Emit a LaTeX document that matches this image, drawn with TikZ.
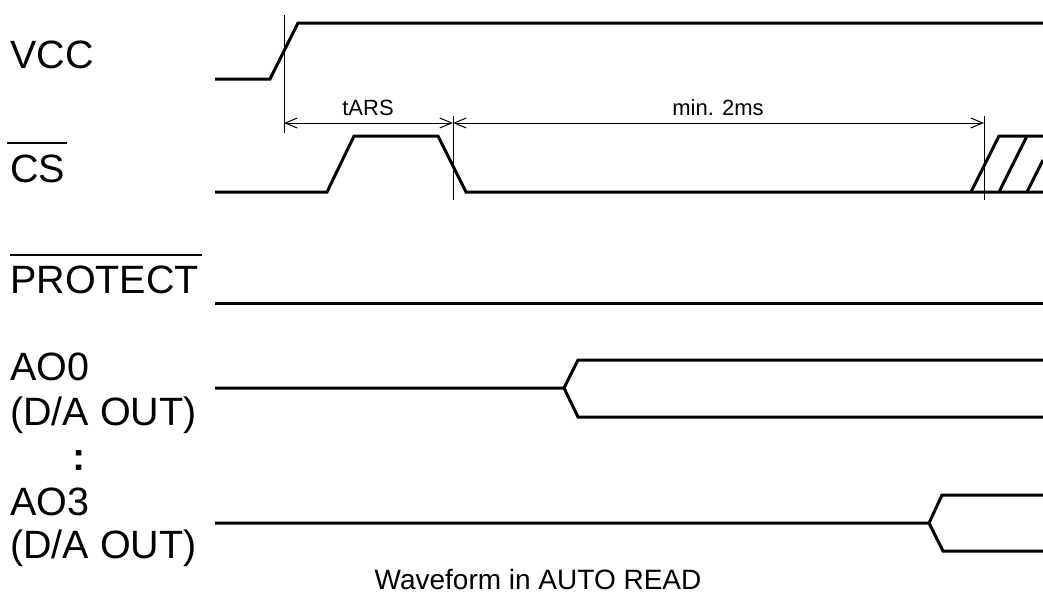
\documentclass[tikz,border=0pt]{standalone}
\usepackage{fontspec}
\setmainfont{Liberation Sans}
\usetikzlibrary{arrows.meta}

\tikzset{
  wave/.style={line width=3pt},
  guide/.style={line width=1pt},
  dimline/.style={line width=1pt,
    {Straight Barb[length=12pt,width=10pt]}-{Straight Barb[length=12pt,width=10pt]}},
  siglabel/.style={anchor=base west, inner sep=0pt, font=\fontsize{39.5}{44}\selectfont},
  dimlabel/.style={anchor=base, inner sep=0pt, font=\fontsize{22}{26}\selectfont},
  barline/.style={line width=2pt},
}

\begin{document}
\begin{tikzpicture}[x=1pt,y=-1pt]
  %%%%% START %%%%%
  \useasboundingbox (0,0) rectangle (1043,597);

  % signal names
  \node[siglabel] (vcc) at (10,68) {VCC};
  \node[siglabel] (cs) at (10,182) {CS};
  \node[siglabel] (prot) at (10,293) {PROTECT};
  \node[siglabel] (ao0) at (10,380) {AO0};
  \node[siglabel] (ao0out) at (10,425) {(D/A OUT)};
  \node[siglabel] (dots) at (72,470) {\bfseries :};
  \node[siglabel] (ao3) at (10,515) {AO3};
  \node[siglabel] (ao3out) at (10,558) {(D/A OUT)};

  \draw[barline] ([xshift=-3pt,yshift=11pt]cs.north west) -- ([xshift=2pt,yshift=11pt]cs.north east);
  \draw[barline] ([yshift=10pt]prot.north west) -- ([xshift=3pt,yshift=10pt]prot.north east);

  % VCC
  \draw[wave] (215,79) -- (270,79) -- (298,23) -- (1043,23);

  % CS
  \draw[wave] (215,192) -- (327,192) -- (354,136) -- (438,136) -- (466,192) -- (1043,192);
  \draw[wave] (971,192) -- (999,136) -- (1043,136);
  \draw[wave] (999,192) -- (1027,136);
  \draw[wave] (1027,192) -- (1043,160);

  % PROTECT
  \draw[wave] (215,303) -- (1043,303);

  % AO0
  \draw[wave] (215,388) -- (564,388) -- (578,360) -- (1043,360);
  \draw[wave] (564,388) -- (578,417) -- (1043,417);

  % AO3
  \draw[wave] (215,523) -- (929,523) -- (942,495) -- (1043,495);
  \draw[wave] (929,523) -- (943,551) -- (1043,551);

  % timing marks
  \coordinate (m1) at (284,123);
  \coordinate (m2) at (453,123);
  \coordinate (m3) at (984,123);
  \draw[guide] (284,15) -- (284,133);
  \draw[guide] (453,116) -- (453,200);
  \draw[guide] (984,116) -- (984,200);

  \draw[dimline] (m1) -- (m2);
  \draw[dimline] (m2) -- (m3);
  \node[dimlabel] (tars) at (368,115) {tARS};
  \node[dimlabel] (twait) at (718,115) {min. 2ms};

  % caption
  \node[anchor=base, inner sep=0pt, font=\fontsize{28}{32}\selectfont] (title) at (538,589) {Waveform in AUTO READ};
  %%%%% END %%%%%
\end{tikzpicture}
\end{document}
